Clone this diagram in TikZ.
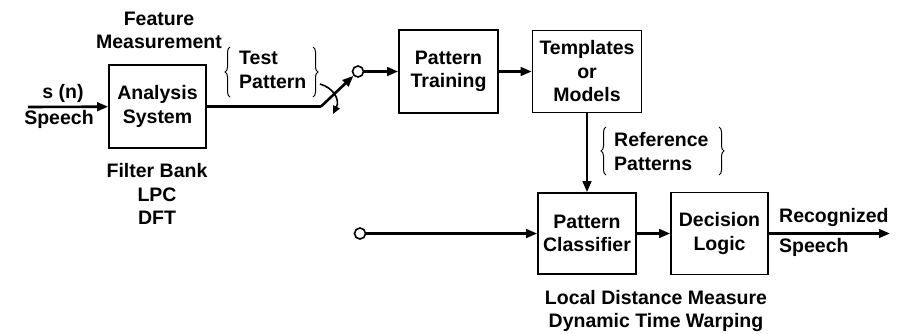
\documentclass[tikz,border=0pt]{standalone}
\usepackage{fontspec}
\setmainfont{Liberation Sans}
\usetikzlibrary{arrows.meta,decorations.pathreplacing}
\tikzset{
  blk/.style={draw,line width=1.6pt,align=center,inner sep=0pt},
  lbl/.style={inner sep=0pt,align=center},
  conn/.style={line width=2.6pt},
  arr/.style={line width=2.6pt,-{Triangle[length=11pt,width=8.5pt]}},
  term/.style={draw,circle,line width=1.6pt,fill=white,minimum size=11pt,inner sep=0pt},
  brc/.style={decorate,decoration={brace,amplitude=5pt},line width=1pt},
}
\begin{document}
\begin{tikzpicture}[x=1pt,y=-1pt,font=\fontsize{19.5}{23.5}\selectfont\bfseries]
\useasboundingbox (0,0) rectangle (901,333);
% blocks
\node[blk,minimum width=97pt,minimum height=83pt] (ana) at (157.5,106.5) {Analysis\\System};
\node[blk,minimum width=99pt,minimum height=83pt] (pt) at (448.5,71.5) {Pattern\\Training};
\node[blk,minimum width=109pt,minimum height=82pt] (tm) at (587,71.5) {Templates\\or\\Models};
\node[blk,minimum width=98pt,minimum height=81pt] (pc) at (587,233.5) {Pattern\\Classifier};
\node[blk,minimum width=97pt,minimum height=82pt] (dl) at (719.5,233.5) {Decision\\Logic};
% terminals
\node[term] (c1) at (358,71.5) {};
\node[term] (c2) at (360,233.5) {};
\coordinate (in) at (28,107);
\coordinate (pivot) at (321,106.5);
\coordinate (out) at (890,233.5);
\coordinate (sa) at (320,84);
\coordinate (sb) at (333,114);
% labels
\node[lbl] (sn) at (63,93) {s (n)};
\node[lbl] (sp) at (59,119) {Speech};
\node[lbl] (fm) at (159,30.5) {Feature\\Measurement};
\node[lbl] (fb) at (157,194) {Filter Bank\\LPC\\DFT};
\node[lbl,anchor=west,align=left] (tp) at (239,70) {Test\\Pattern};
\node[lbl,anchor=west,align=left] (rp) at (614,151.5) {Reference\\Patterns};
\node[lbl,anchor=west] (rc) at (779,217) {Recognized};
\node[lbl,anchor=west] (rs) at (779,247) {Speech};
\node[lbl] (ld) at (656,311) {Local Distance Measure\\Dynamic Time Warping};
% braces
\draw[brc] (230,97) -- (230,47);
\draw[brc] (313,47) -- (313,97);
\draw[brc] (606,175) -- (606,127);
\draw[brc] (719,127) -- (719,175);
% connectors
\draw[arr] (in) -- (ana);
\draw[conn] (ana.east |- pivot) -- (pivot);
\draw[arr] (pivot) -- (c1);
\draw[line width=1.6pt,-{Triangle[length=8pt,width=7pt]}] (sa) .. controls (334,88) and (340,100) .. (sb);
\draw[arr] (c1) -- (pt);
\draw[arr] (pt) -- (tm);
\draw[arr] (tm) -- (pc);
\draw[arr] (c2) -- (pc);
\draw[arr] (pc) -- (dl);
\draw[arr] (dl) -- (out);
\end{tikzpicture}
\end{document}
